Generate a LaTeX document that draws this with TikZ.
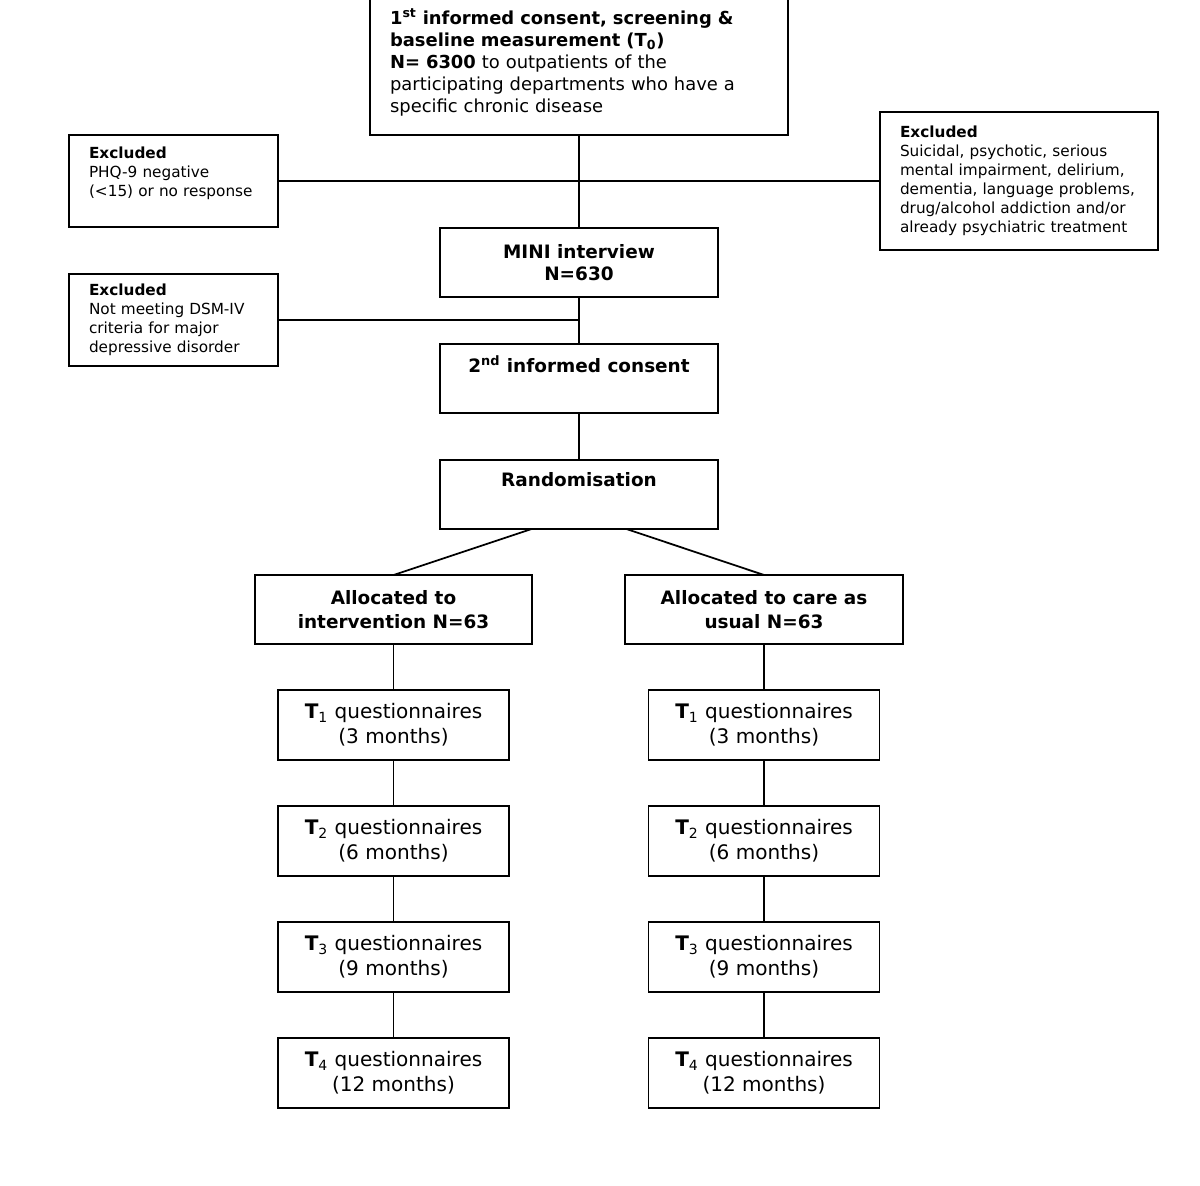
\documentclass[tikz,border=0pt]{standalone}
\usepackage{fontspec}
\setmainfont{DejaVu Sans}
\usetikzlibrary{positioning,calc}
\tikzstyle{box} = [rectangle, draw=black, line width=1pt, inner xsep=0pt, inner ysep=0pt, outer sep=0pt, align=center]
\tikzstyle{topbox} = [box, minimum width=8.36cm, minimum height=2.9cm, inner xsep=0.4cm, text width=7.56cm, align=left, font=\fontsize{10.2}{12.5}\selectfont]
\tikzstyle{excl} = [box, inner xsep=0.4cm, align=left, font=\fontsize{8.7}{10.8}\selectfont]
\tikzstyle{stage} = [box, minimum width=5.56cm, minimum height=1.38cm, font=\bfseries\fontsize{10.5}{12.8}\selectfont]
\tikzstyle{alloc} = [box, minimum width=5.55cm, minimum height=1.38cm, font=\bfseries\fontsize{10.5}{13.6}\selectfont]
\tikzstyle{quest} = [box, minimum width=4.62cm, minimum height=1.4cm, font=\fontsize{11.4}{14.2}\selectfont]
\tikzstyle{line} = [line width=1pt]
\newcommand{\Tq}[2]{\textbf{T}\textsubscript{#1} questionnaires\\(#2 months)}

\begin{document}
\begin{tikzpicture}[x=0.02cm, y=-0.02cm]
				\useasboundingbox (0,0) rectangle (1200,1186);
				\node (screen) [topbox] at (579,62.5) {\textbf{1\textsuperscript{st} informed consent, screening \&}\\\textbf{baseline measurement (T\textsubscript{0})}\\\textbf{N= 6300} to outpatients of the\\participating departments who have a\\specific chronic disease};
				\node (exphq) [excl, minimum width=4.18cm, minimum height=1.84cm, text width=3.38cm] at (173.5,181) {\textbf{Excluded}\\PHQ-9 negative\\(<15) or no response\\~};
				\node (exother) [excl, minimum width=5.56cm, minimum height=2.76cm, text width=4.76cm] at (1019,181) {\textbf{Excluded}\\Suicidal, psychotic, serious\\mental impairment, delirium,\\dementia, language problems,\\drug/alcohol addiction and/or\\already psychiatric treatment};
				\node (mini) [stage] at (579,262.5) {MINI interview\\N=630};
				\node (exdsm) [excl, minimum width=4.18cm, minimum height=1.84cm, text width=3.38cm] at (173.5,320) {\textbf{Excluded}\\Not meeting DSM-IV\\criteria for major\\depressive disorder};
				\node (consent) [stage, below = 0.94cm of mini] {2\textsuperscript{nd} informed consent\\[4pt]~};
				\node (random) [stage, below = 0.94cm of consent] {Randomisation\\[4pt]~};
				\node (allocI) [alloc] at (393.5,609.5) {Allocated to\\intervention N=63};
				\node (allocC) [alloc] at (764,609.5) {Allocated to care as\\usual N=63};
				% intervention arm
				\node (iT1) [quest, below = 0.92cm of allocI] {\Tq{1}{3}};
				\node (iT2) [quest, below = 0.92cm of iT1] {\Tq{2}{6}};
				\node (iT3) [quest, below = 0.92cm of iT2] {\Tq{3}{9}};
				\node (iT4) [quest, below = 0.92cm of iT3] {\Tq{4}{12}};
				% care as usual arm
				\node (cT1) [quest, below = 0.92cm of allocC] {\Tq{1}{3}};
				\node (cT2) [quest, below = 0.92cm of cT1] {\Tq{2}{6}};
				\node (cT3) [quest, below = 0.92cm of cT2] {\Tq{3}{9}};
				\node (cT4) [quest, below = 0.92cm of cT3] {\Tq{4}{12}};

				\draw [line] (screen) -- (mini);
				\draw [line] (exphq.east) -- (exother.west);
				\draw [line] (mini) -- (consent);
				\draw [line] (exdsm.east) -- (exdsm.east -| mini.south);
				\draw [line] (consent) -- (random);
				\draw [line] ($(random.south west)!0.33!(random.south east)$) -- (allocI.north);
				\draw [line] ($(random.south west)!0.67!(random.south east)$) -- (allocC.north);
				\draw [line] (allocI) -- (iT1);
				\draw [line] (iT1) -- (iT2);
				\draw [line] (iT2) -- (iT3);
				\draw [line] (iT3) -- (iT4);
				\draw [line] (allocC) -- (cT1);
				\draw [line] (cT1) -- (cT2);
				\draw [line] (cT2) -- (cT3);
				\draw [line] (cT3) -- (cT4);
			\end{tikzpicture}
\end{document}
